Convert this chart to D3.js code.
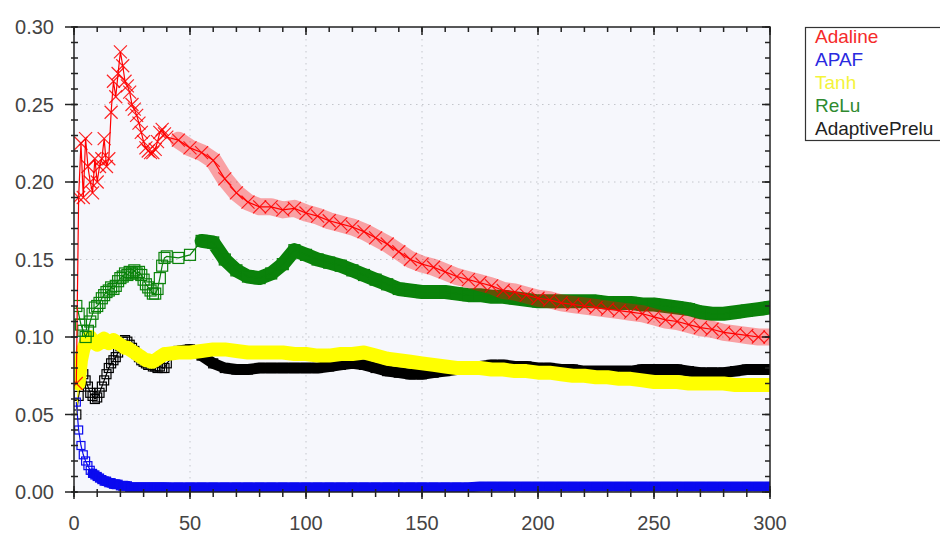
<!DOCTYPE html>
<html>
<head>
<meta charset="utf-8">
<script src="https://cdn.jsdelivr.net/npm/d3@7"></script>
<style>
body {margin:0;background:#fff;}
svg {display:block;font-family:"Liberation Sans",Arial,sans-serif;}
.tick-label {font-size:20px;fill:#444;}
.legend-label {font-size:19px;}
</style>
</head>
<body>
<svg id="chart" width="940" height="533"></svg>
<script>
// epochs: every epoch up to 40, then every 5th
var epochs = [1,2,3,4,5,6,7,8,9,10,11,12,13,14,15,16,17,18,19,20,
  21,22,23,24,25,26,27,28,29,30,31,32,33,34,35,36,37,38,39,40,
  45,50,55,60,65,70,75,80,85,90,95,100,105,110,115,120,125,130,135,140,
  145,150,155,160,165,170,175,180,185,190,195,200,205,210,215,220,225,230,235,240,
  245,250,255,260,265,270,275,280,285,290,295,300]

var adaline = [0.07,0.19,0.225,0.19,0.228,0.21,0.20,0.193,0.215,0.20,0.21,0.215,0.228,0.21,0.215,0.245,0.265,0.255,0.27,0.284,
  0.275,0.265,0.262,0.258,0.25,0.247,0.243,0.238,0.232,0.226,0.222,0.22,0.219,0.219,0.221,0.226,0.232,0.234,0.231,0.229,
  0.227,0.222,0.219,0.214,0.202,0.193,0.187,0.184,0.184,0.182,0.183,0.180,0.178,0.175,0.173,0.171,0.168,0.164,0.160,0.155,
  0.150,0.147,0.145,0.142,0.139,0.137,0.135,0.133,0.130,0.129,0.127,0.125,0.124,0.122,0.121,0.120,0.119,0.118,0.117,0.116,
  0.115,0.113,0.111,0.110,0.108,0.106,0.105,0.103,0.102,0.101,0.100,0.100]

var apaf = [0.058,0.04,0.03,0.024,0.02,0.017,0.014,0.012,0.011,0.010,0.009,0.008,0.007,0.007,0.006,0.006,0.005,0.005,0.005,0.004,
  0.004,0.004,0.004,0.003,0.003,0.003,0.003,0.003,0.003,0.003,0.003,0.003,0.003,0.003,0.003,0.003,0.003,0.003,0.003,0.003,
  0.003,0.003,0.003,0.003,0.003,0.003,0.003,0.003,0.003,0.003,0.003,0.003,0.003,0.003,0.003,0.003,0.003,0.003,0.003,0.003,
  0.003,0.003,0.003,0.003,0.003,0.003,0.0035,0.0035,0.0035,0.0035,0.0035,0.0035,0.0035,0.0035,0.0035,0.0035,0.0035,0.0035,0.0035,0.0035,
  0.0035,0.0035,0.0035,0.0035,0.0035,0.0035,0.0035,0.0035,0.0035,0.0035,0.0035,0.0035]

var tanh = [0.05,0.07,0.085,0.092,0.096,0.099,0.1,0.098,0.096,0.095,0.096,0.098,0.099,0.097,0.096,0.097,0.098,0.097,0.096,0.095,
  0.094,0.093,0.093,0.092,0.091,0.09,0.089,0.088,0.087,0.086,0.085,0.085,0.084,0.084,0.085,0.086,0.087,0.088,0.089,0.089,
  0.090,0.090,0.091,0.092,0.092,0.091,0.090,0.090,0.090,0.090,0.089,0.089,0.088,0.088,0.089,0.089,0.090,0.088,0.086,0.085,
  0.084,0.083,0.082,0.081,0.080,0.080,0.080,0.079,0.079,0.078,0.078,0.077,0.077,0.076,0.075,0.075,0.074,0.074,0.073,0.073,
  0.072,0.071,0.071,0.071,0.070,0.070,0.070,0.070,0.069,0.069,0.069,0.069]

var relu = [0.12,0.115,0.108,0.104,0.10,0.104,0.11,0.115,0.119,0.12,0.122,0.125,0.127,0.129,0.13,0.132,0.131,0.133,0.136,0.138,
  0.139,0.141,0.14,0.142,0.141,0.143,0.141,0.142,0.14,0.137,0.134,0.132,0.13,0.128,0.128,0.131,0.138,0.146,0.151,0.152,
  0.151,0.153,0.162,0.161,0.150,0.143,0.139,0.138,0.141,0.147,0.156,0.153,0.150,0.148,0.146,0.143,0.140,0.137,0.134,0.131,
  0.130,0.129,0.129,0.129,0.128,0.127,0.127,0.126,0.126,0.125,0.124,0.123,0.123,0.123,0.123,0.123,0.123,0.122,0.122,0.122,
  0.121,0.121,0.120,0.119,0.118,0.116,0.115,0.115,0.116,0.117,0.118,0.119]

var adaptivePrelu = [0.05,0.062,0.07,0.076,0.072,0.068,0.064,0.062,0.060,0.061,0.064,0.068,0.072,0.076,0.08,0.083,0.085,0.087,0.09,0.094,
  0.097,0.098,0.097,0.095,0.093,0.091,0.089,0.087,0.085,0.084,0.083,0.082,0.082,0.081,0.081,0.08,0.081,0.08,0.08,0.083,
  0.091,0.092,0.088,0.083,0.080,0.079,0.079,0.080,0.080,0.080,0.080,0.080,0.080,0.081,0.082,0.083,0.082,0.080,0.078,0.077,
  0.076,0.076,0.077,0.078,0.079,0.080,0.081,0.082,0.082,0.081,0.081,0.080,0.080,0.079,0.079,0.078,0.078,0.078,0.078,0.078,
  0.079,0.079,0.079,0.079,0.078,0.077,0.077,0.077,0.078,0.079,0.079,0.079]

var names = ["Adaline", "APAF", "Tanh", "ReLu", "AdaptivePrelu"]
var legendColors = ["#f52a2a", "#2a2ae0", "#f4f43a", "#2f8a2f", "#222222"]

var xTicks = [0, 50, 100, 150, 200, 250, 300]
var yTicks = [0, 0.05, 0.10, 0.15, 0.20, 0.25, 0.30]

var svg = d3.select("#chart")
var plotL = 74, plotR = 770, plotT = 27, plotB = 492

var x = d3.scaleLinear().domain([0, 300]).range([plotL, plotR])
var y = d3.scaleLinear().domain([0, 0.3]).range([plotB, plotT])

svg.append("defs").append("clipPath").attr("id", "plotclip")
  .append("rect").attr("x", plotL).attr("y", plotT).attr("width", plotR - plotL).attr("height", plotB - plotT)

// plot background
svg.append("rect").attr("x", plotL).attr("y", plotT).attr("width", plotR - plotL).attr("height", plotB - plotT)
  .attr("fill", "#f6f7fc")

// dotted grid
svg.append("g").selectAll("line").data(xTicks.slice(1, -1)).enter().append("line")
  .attr("x1", d => x(d)).attr("x2", d => x(d)).attr("y1", plotT).attr("y2", plotB)
  .attr("stroke", "#c4c6cc").attr("stroke-dasharray", "1.5,4.5")
svg.append("g").selectAll("line").data(yTicks.slice(1, -1)).enter().append("line")
  .attr("y1", d => y(d)).attr("y2", d => y(d)).attr("x1", plotL).attr("x2", plotR)
  .attr("stroke", "#c4c6cc").attr("stroke-dasharray", "1.5,4.5")

// series: drawing order black, yellow, blue, green, red
var series = [
  {values: adaptivePrelu, color: "#000000", band: 11, bandFrom: 45, marker: "square", size: 9},
  {values: tanh, color: "#ffff00", band: 14, bandFrom: 2, marker: "none", size: 0},
  {values: apaf, color: "#0a0aef", band: 10, bandFrom: 8, marker: "square", size: 8},
  {values: relu, color: "#0a820a", band: 14, bandFrom: 55, marker: "square", size: 11},
  {values: adaline, color: "#ff0000", band: 17, bandFrom: 45, marker: "x", size: 13}
]

var line = d3.line().x(d => x(d[0])).y(d => y(d[1]))
var plot = svg.append("g").attr("clip-path", "url(#plotclip)")

series.forEach(function (s) {
  var pts = epochs.map((e, i) => [e, s.values[i]])
  var g = plot.append("g")
  var bandPts = pts.filter(p => p[0] >= s.bandFrom)
  g.append("path").attr("d", line(bandPts)).attr("fill", "none")
    .attr("stroke", s.color).attr("stroke-width", s.band)
    .attr("stroke-linejoin", "round").attr("stroke-linecap", "round")
    .attr("opacity", s.marker === "x" ? 0.35 : 1)
  g.append("path").attr("d", line(pts)).attr("fill", "none")
    .attr("stroke", s.color).attr("stroke-width", 1.2)
  if (s.marker === "square") {
    g.selectAll("rect").data(pts).enter().append("rect")
      .attr("x", d => x(d[0]) - s.size / 2).attr("y", d => y(d[1]) - s.size / 2)
      .attr("width", s.size).attr("height", s.size)
      .attr("fill", "none").attr("stroke", s.color).attr("stroke-width", 1.2)
  } else if (s.marker === "x") {
    var h = s.size / 2
    g.selectAll("path.mk").data(pts).enter().append("path").attr("class", "mk")
      .attr("d", "M" + (-h) + "," + (-h) + "L" + h + "," + h + "M" + (-h) + "," + h + "L" + h + "," + (-h))
      .attr("transform", d => "translate(" + x(d[0]) + "," + y(d[1]) + ")")
      .attr("stroke", s.color).attr("stroke-width", 1.2).attr("opacity", 0.85)
  }
})

// frame
svg.append("rect").attr("x", plotL).attr("y", plotT).attr("width", plotR - plotL).attr("height", plotB - plotT)
  .attr("fill", "none").attr("stroke", "#222").attr("stroke-width", 1.5)

// ticks
var xMinor = x.ticks(30), yMinor = y.ticks(30)
var tk = svg.append("g").attr("stroke", "#222").attr("stroke-width", 1.5)
function ticksX(vals, y0, y1) {
  tk.append("g").selectAll("line").data(vals).enter().append("line")
    .attr("x1", d => x(d)).attr("x2", d => x(d)).attr("y1", y0).attr("y2", y1)
}
function ticksY(vals, x0, x1) {
  tk.append("g").selectAll("line").data(vals).enter().append("line")
    .attr("y1", d => y(d)).attr("y2", d => y(d)).attr("x1", x0).attr("x2", x1)
}
ticksX(xTicks, plotB - 6, plotB + 7)
ticksX(xMinor, plotB - 3, plotB + 5)
ticksX(xTicks, plotT, plotT + 8)
ticksX(xMinor, plotT, plotT + 5)
ticksY(yTicks, plotL - 9, plotL + 3)
ticksY(yMinor, plotL - 3, plotL + 4)
ticksY(yTicks, plotR - 8, plotR)
ticksY(yMinor, plotR - 5, plotR)

// tick labels
svg.append("g").selectAll("text").data(yTicks).enter().append("text")
  .attr("class", "tick-label").attr("x", 54).attr("y", d => y(d) + 7)
  .attr("text-anchor", "end").text(d3.format(".2f"))
svg.append("g").selectAll("text").data(xTicks).enter().append("text")
  .attr("class", "tick-label").attr("x", d => x(d)).attr("y", 530)
  .attr("text-anchor", "middle").text(d3.format("d"))

// legend
var lg = svg.append("g")
lg.append("rect").attr("x", 805.5).attr("y", 27.5).attr("width", 150).attr("height", 113)
  .attr("fill", "#fff").attr("stroke", "#333").attr("stroke-width", 1.2)
lg.selectAll("text").data(names).enter().append("text")
  .attr("class", "legend-label").attr("x", 815).attr("y", (d, i) => 43 + i * 23)
  .attr("fill", (d, i) => legendColors[i]).text(d => d)
</script>
</body>
</html>
